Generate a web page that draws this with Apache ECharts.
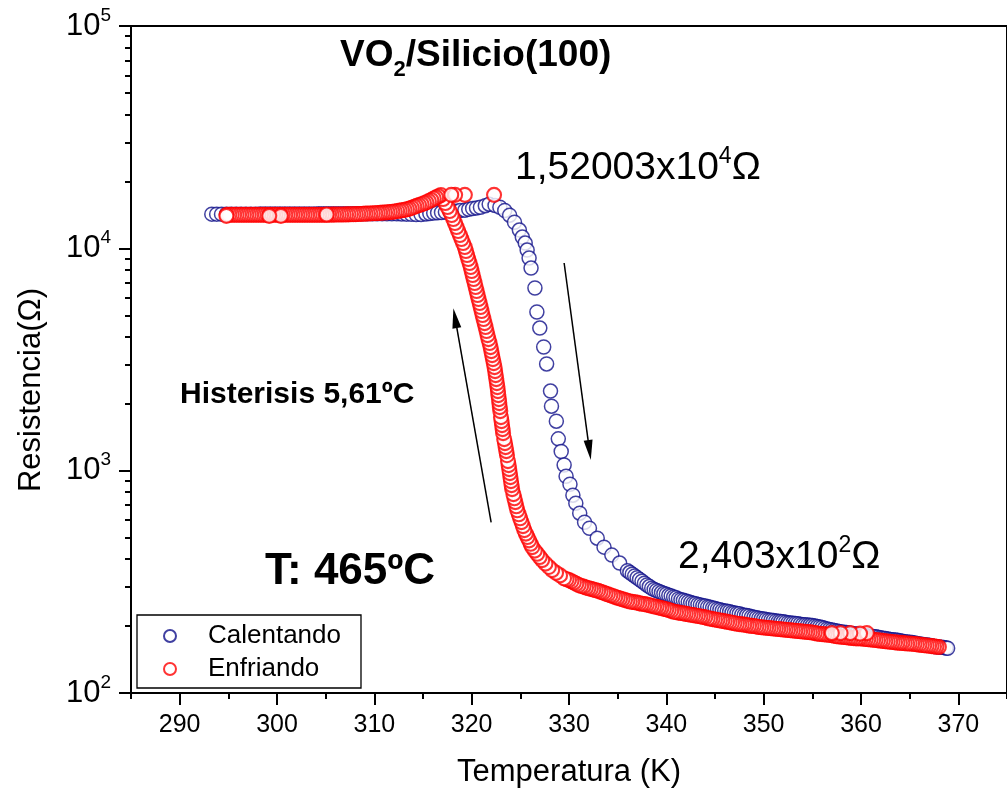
<!DOCTYPE html>
<html><head><meta charset="utf-8">
<script src="https://cdn.jsdelivr.net/npm/echarts@6/dist/echarts.min.js"></script>
<style>html,body{margin:0;padding:0;background:#fff}#c{width:1007px;height:797px}</style>
</head><body><div id="c"></div>
<script>
const FONT = '"Liberation Sans", Arial, Helvetica, sans-serif';
const BLUE = '#10108a';
const RED = '#ff0000';

const seriesNames = ['Calentando', 'Enfriando'];
const xMajorTicks = [290, 300, 310, 320, 330, 340, 350, 360, 370];
const xMinorTicks = [285, 295, 305, 315, 325, 335, 345, 355, 365, 375];
const yMajorTicks = [100, 1000, 10000, 100000];
const yMinorTicks = [200,300,400,500,600,700,800,900,2000,3000,4000,5000,6000,7000,8000,9000,20000,30000,40000,50000,60000,70000,80000,90000];

// Calentando (heating): [T (K), R (ohm)]
const heating = [
[293.3,14250],[293.8,14250],[294.3,14250],[294.8,14250],[295.3,14250],[295.8,14250],[296.3,14250],[296.8,14250],[297.3,14250],[297.8,14250],
[298.3,14260],[298.8,14260],[299.3,14260],[299.8,14260],[300.3,14270],[300.8,14270],[301.3,14270],[301.8,14270],[302.3,14280],[302.8,14280],
[303.3,14280],[303.8,14280],[304.3,14290],[304.8,14290],[305.3,14290],[305.8,14290],[306.3,14300],[306.8,14300],[307.3,14300],[307.8,14300],
[308.3,14300],[308.8,14300],[309.3,14300],[309.8,14300],[310.3,14300],[310.8,14300],[311.3,14300],[311.8,14300],[312.3,14300],[312.8,14280],
[313.3,14250],[313.8,14220],[314.3,14200],[314.8,14200],[315.3,14280],[315.7,14350],[316.1,14400],[316.5,14450],[316.9,14500],[317.3,14550],
[317.8,14620],[318.3,14700],[318.8,14780],[319.3,14850],[319.7,14980],[320.1,15100],[320.5,15200],[320.9,15300],[321.4,15550],[321.8,15800],
[322.4,15600],[322.9,15300],[323.4,14800],[323.9,14100],[324.4,13100],[324.9,12080],[325.2,11240],[325.5,10560],[325.7,9820],[325.9,9040],
[326.1,8150],[326.5,6630],[326.7,5170],[327.0,4380],[327.4,3600],[327.7,3020],[328.1,2280],[328.2,1950],[328.7,1670],[328.9,1390],
[329.2,1220],[329.5,1060],[329.7,944],[330.1,869],[330.4,776],[330.7,714],[331.1,644],[331.6,586],[332.1,551],[332.9,497],
[333.6,453],[334.4,417],[335.2,384],
[336.0,355],[336.25,348],[336.5,342],[336.75,336],[337.0,330],[337.25,324],[337.5,318],[337.75,312],[338.0,306],[338.25,301],
[338.5,296],[338.75,292],[339.0,289],[339.25,286],[339.5,283],[339.75,280],[340.0,278],[340.25,275],[340.5,273],[340.75,270],
[341.0,268],[341.25,265],[341.5,263],[341.75,261],[342.0,259],[342.25,257],[342.5,255],[342.75,253],[343.0,252],[343.25,250],
[343.5,249],[343.75,247],[344.0,246],[344.25,244],[344.5,243],[344.75,241],[345.0,240],[345.25,238],[345.5,237],[345.75,235],
[346.0,234],[346.25,233],[346.5,232],[346.75,230],[347.0,229],[347.25,228],[347.5,227],[347.75,225],[348.0,224],[348.25,223],
[348.5,222],[348.75,220],[349.0,219],[349.25,218],[349.5,217],[349.75,216],[350.0,215],[350.25,214],[350.5,213],[350.75,212.5],
[351.0,212],[351.25,211],[351.5,210],[351.75,209.5],[352.0,209],[352.25,208],[352.5,207],[352.75,206.5],[353.0,206],[353.25,205.5],
[353.5,205],[353.75,204],[354.0,203],[354.25,202.5],[354.5,202],[354.75,201.5],[355.0,201],[355.25,200],[355.5,199],[355.75,198],
[356.0,197],[356.25,195.5],[356.5,194],[356.75,193],[357.0,192],[357.25,191],[357.5,190],[357.75,189],[358.0,188],[358.25,187.5],
[358.5,187],[358.75,186],[359.0,185],[359.25,184.5],[359.5,184],[359.75,183.5],[360.0,183],[360.25,182],[360.5,181],[360.75,180.5],
[361.0,180],[361.25,179.5],[361.5,179],[361.75,178],[362.0,177],[362.25,176.5],[362.5,176],[362.75,175],[363.0,174],[363.25,173.5],
[363.5,173],[363.75,172.5],[364.0,172],[364.25,171],[364.5,170],[364.75,169.5],[365.0,169],[365.25,168.5],[365.5,168],[365.75,167],
[366.0,166],[366.25,165.5],[366.5,165],[366.75,164.5],[367.0,164],[367.25,163],[367.5,162],[367.75,161.5],[368.0,161],[368.25,160.5],
[368.5,160],[368.75,159.5],[368.9,159]
];

// Enfriando (cooling): [T (K), R (ohm)], in measurement order (hot to cold)
const cooling = [
[368.0,161],[367.75,161.5],[367.5,162],[367.25,162.5],[367.0,163],[366.75,163.5],[366.5,164],[366.25,164.5],[366.0,165],[365.75,165.5],
[365.5,166],[365.25,166.5],[365.0,167],[364.75,167],[364.5,167.5],[364.25,168],[364.0,168],[363.75,168.5],[363.5,169],[363.25,169.5],
[363.0,170],[362.75,170.5],[362.5,171],[362.25,171.5],[362.0,172],[361.75,172.5],[361.5,173],[361.25,173.5],[361.0,174],[360.75,174.5],
[360.5,175],[360.25,175.5],[360.0,176],[359.75,176],[359.5,176],[359.25,176.5],[359.0,177],[358.75,177.5],[358.5,178],[358.25,178.5],
[358.0,179],[357.75,179.5],[357.5,180],[357.25,181],[357.0,182],[356.75,182.5],[356.5,183],[356.25,183.5],[356.0,184],[355.75,184.5],
[355.5,185],[355.25,186],[355.0,187],[354.75,187.5],[354.5,188],[354.25,188.5],[354.0,189],[353.75,189.5],[353.5,190],[353.25,190.5],
[353.0,191],[352.75,191.5],[352.5,192],[352.25,192.5],[352.0,193],[351.75,193.5],[351.5,194],[351.25,194.5],[351.0,195],[350.75,195.5],
[350.5,196],[350.25,196.5],[350.0,197],[349.75,197.5],[349.5,198],[349.25,199],[349.0,200],[348.75,200.5],[348.5,201],[348.25,202],
[348.0,203],[347.75,203.5],[347.5,204],[347.25,205],[347.0,206],[346.75,207],[346.5,208],[346.25,209],[346.0,210],[345.75,211],
[345.5,212],[345.25,213],[345.0,214],[344.75,215],[344.5,216],[344.25,217],[344.0,219],[343.75,220],[343.5,221],[343.25,222],
[343.0,223],[342.75,224],[342.5,225],[342.25,226],[342.0,227],[341.75,228],[341.5,229],[341.25,230],[341.0,231],[340.75,232],
[340.5,234],[340.25,236],[340.0,238],[339.75,239],[339.5,241],[339.25,242],[339.0,244],[338.75,245],[338.5,247],[338.25,248],
[338.0,250],[337.75,251],[337.5,252],[337.25,253],[337.0,255],[336.75,256],[336.5,257],[336.25,258],[336.0,260],[335.75,262],
[335.5,264],[335.25,266],[335.0,268],[334.75,270],[334.5,273],[334.25,275],[334.0,278],[333.75,280],[333.5,283],[333.25,285],
[333.0,288],[332.75,290],[332.5,292],[332.25,294],[332.0,296],[331.75,298],[331.5,301],[331.25,303],[331.0,306],[330.75,310],
[330.5,314],[330.25,318],[330.0,322],[329.75,325],
[329.49,328],[329.08,338],[328.67,347],[328.27,357],[327.93,369],[327.58,382],[327.24,396],[326.99,409],[326.73,423],[326.48,437],
[326.22,453],[326.06,469],[325.90,486],[325.73,503],[325.57,521],[325.41,540],[325.27,563],[325.12,587],[324.98,611],[324.84,637],
[324.69,664],[324.59,692],[324.49,722],[324.39,752],[324.29,784],[324.16,826],[324.10,861],[324.04,897],[323.98,935],[323.92,975],
[323.86,1016],[323.80,1059],[323.73,1104],[323.63,1174],[323.56,1224],[323.49,1276],[323.42,1330],[323.34,1386],[323.23,1475],[323.18,1538],
[323.12,1603],[323.07,1671],[323.01,1741],[322.94,1853],[322.89,1932],[322.84,2013],[322.80,2098],[322.74,2187],[322.70,2280],[322.65,2376],
[322.59,2476],[322.53,2581],[322.47,2690],[322.41,2804],[322.35,2922],[322.27,3045],[322.18,3175],[322.10,3310],[322.02,3450],[321.94,3595],
[321.84,3750],[321.73,3905],[321.63,4070],[321.53,4245],[321.43,4425],[321.33,4610],[321.22,4810],[321.12,5010],[321.02,5225],[320.92,5445],
[320.82,5675],[320.71,5915],[320.61,6165],[320.51,6425],[320.41,6695],[320.31,6980],[320.20,7275],[320.10,7585],[320.00,7905],[319.90,8240],
[319.78,8590],[319.65,8950],[319.53,9330],[319.41,9725],[319.29,10140],[319.12,10560],[318.95,11010],[318.79,11480],[318.61,11960],[318.45,12470],
[318.28,13000],[318.11,13550],[317.94,14120],[317.74,14720],[317.52,15340],[317.29,15990],[317.06,16670],[316.84,17375],
[316.6,17150],[316.35,16950],[316.1,16750],[315.85,16500],[315.6,16300],[315.35,16100],[315.1,15950],[314.85,15780],[314.6,15650],[314.35,15520],
[314.1,15380],[313.85,15230],[313.6,15080],[313.35,14980],[313.1,14900],[312.85,14840],[312.6,14770],[312.35,14710],[312.1,14650],[311.85,14600],
[311.6,14560],[311.35,14530],[311.1,14500],[310.85,14470],[310.6,14440],[310.35,14410],[310.1,14390],[309.85,14375],[309.6,14355],[309.35,14340],
[309.1,14320],[308.85,14300],[308.6,14280],[308.35,14260],[308.1,14250],[307.85,14240],[307.6,14225],[307.35,14215],[307.1,14210],[306.85,14200],
[306.6,14200],[306.35,14200],[306.1,14190],[305.85,14180],[305.6,14175],[305.35,14170],[305.1,14160],[304.85,14150],[304.6,14150],[304.35,14150],
[304.1,14150],[303.85,14150],[303.6,14150],[303.35,14150],[303.1,14150],[302.85,14150],[302.6,14150],[302.35,14150],[302.1,14150],[301.85,14150],
[301.6,14150],[301.35,14150],[301.1,14150],[300.85,14150],[300.6,14150],[300.35,14150],[300.1,14150],[299.85,14150],[299.6,14150],[299.35,14150],
[299.1,14150],[298.85,14150],[298.6,14150],[298.35,14150],[298.1,14150],[297.85,14150],[297.6,14150],[297.35,14150],[297.1,14150],[296.85,14150],
[296.6,14150],[296.35,14150],[296.1,14150],[295.85,14150],[295.6,14150],[295.35,14150],[295.1,14150],[294.85,14150],
[360.6,186],[359.9,185],[358.9,186],[357.9,186],[357.0,186],[322.3,17400],[319.3,17400],[318.3,17400],[317.9,17400],
[305.1,14200],[300.4,14000],[299.2,14000],[294.8,14000]
];

// arrows: [start [T,R], end [T,R]]
const arrows = [
  [[329.5, 8590], [332.1, 1237]],
  [[322.0, 586], [318.3, 4856]]
];

const chart = echarts.init(document.getElementById('c'), null, {renderer: 'canvas'});

const axisLineStyle = {color: '#000', width: 2};

const option = {
  animation: false,
  backgroundColor: '#fff',
  grid: {left: 131, top: 26, width: 882, height: 667, show: true, borderColor: '#000', borderWidth: 2, backgroundColor: 'transparent'},
  legend: {
    data: seriesNames, orient: 'vertical', left: 137, top: 615,
    backgroundColor: '#fff', borderColor: '#000', borderWidth: 1.3, borderRadius: 0,
    padding: [8, 20, 6, 26], itemGap: 7, itemWidth: 12, itemHeight: 12,
    textStyle: {fontSize: 26, fontFamily: FONT, color: '#000', padding: [0, 0, 0, 27]}
  },
  xAxis: [
    {
      type: 'value', position: 'bottom', min: 285, max: 375,
      axisLine: {show: true, onZero: false, lineStyle: axisLineStyle},
      axisTick: {show: true, inside: false, length: 12, lineStyle: {width: 2, color: '#000'}, customValues: xMajorTicks},
      axisLabel: {show: true, margin: 20, fontSize: 25, fontFamily: FONT, color: '#000', customValues: xMajorTicks},
      splitLine: {show: false},
      name: 'Temperatura (K)', nameLocation: 'middle', nameGap: 64,
      nameTextStyle: {fontSize: 31, fontFamily: FONT, color: '#000'}
    },
    {
      type: 'value', position: 'bottom', min: 285, max: 375,
      axisLine: {show: false},
      axisTick: {show: true, inside: false, length: 6, lineStyle: {width: 2, color: '#000'}, customValues: xMinorTicks},
      axisLabel: {show: false},
      splitLine: {show: false}
    }
  ],
  yAxis: [
    {
      type: 'log', logBase: 10, min: 100, max: 100000, position: 'left',
      axisLine: {show: true, onZero: false, lineStyle: axisLineStyle},
      axisTick: {show: true, inside: false, length: 12, lineStyle: {width: 2, color: '#000'}, customValues: yMajorTicks},
      axisLabel: {
        show: true, margin: 20, color: '#000', customValues: yMajorTicks,
        formatter: function (v) { return '{b|10}{s|' + Math.round(Math.log10(v)) + '}'; },
        rich: {
          b: {fontSize: 31, fontFamily: FONT, color: '#000', lineHeight: 40},
          s: {fontSize: 19, fontFamily: FONT, color: '#000', lineHeight: 19, verticalAlign: 'top'}
        }
      },
      splitLine: {show: false}
    },
    {
      type: 'log', logBase: 10, min: 100, max: 100000, position: 'left',
      axisLine: {show: false},
      axisTick: {show: true, inside: false, length: 6, lineStyle: {width: 2, color: '#000'}, customValues: yMinorTicks},
      axisLabel: {show: false},
      splitLine: {show: false}
    }
  ],
  series: [
    {
      name: 'Calentando', type: 'scatter', data: heating, symbol: 'circle', symbolSize: 14,
      itemStyle: {color: '#fff', borderColor: BLUE, borderWidth: 1.5},
      emphasis: {disabled: true}, z: 2
    },
    {
      name: 'Enfriando', type: 'scatter', data: cooling, symbol: 'circle', symbolSize: 14,
      itemStyle: {color: '#fff', borderColor: RED, borderWidth: 2.1},
      emphasis: {disabled: true}, z: 3
    },
    {
      name: 'arrows', type: 'scatter', data: [], silent: true, z: 4,
      markLine: {
        silent: true, symbol: ['none', 'triangle'], symbolSize: [9, 20],
        lineStyle: {color: '#000', width: 1.5, type: 'solid'},
        itemStyle: {color: '#000'},
        label: {show: false}, emphasis: {disabled: true},
        data: arrows.map(function (a) { return [{coord: a[0]}, {coord: a[1]}]; })
      }
    }
  ],
  graphic: [
    {
      type: 'text', x: 31, y: 390, rotation: Math.PI / 2,
      style: {text: 'Resistencia(Ω)', fontSize: 31, fontFamily: FONT, fill: '#000', align: 'center', verticalAlign: 'middle'}
    },
    {
      type: 'text', x: 340, y: 56,
      style: {
        text: '{a|VO}{s|2}{a|/Silicio(100)}', verticalAlign: 'middle', align: 'left',
        rich: {
          a: {fontSize: 37, fontWeight: 'bold', fontFamily: FONT, fill: '#000', lineHeight: 50},
          s: {fontSize: 22, fontWeight: 'bold', fontFamily: FONT, fill: '#000', lineHeight: 22, verticalAlign: 'bottom'}
        }
      }
    },
    {
      type: 'text', x: 515, y: 168,
      style: {
        text: '{n|1,52003x10}{s|4}{n|Ω}', verticalAlign: 'middle', align: 'left',
        rich: {
          n: {fontSize: 39, fontFamily: FONT, fill: '#000', lineHeight: 46},
          s: {fontSize: 23, fontFamily: FONT, fill: '#000', lineHeight: 20, verticalAlign: 'top'}
        }
      }
    },
    {
      type: 'text', x: 678, y: 557,
      style: {
        text: '{n|2,403x10}{s|2}{n|Ω}', verticalAlign: 'middle', align: 'left',
        rich: {
          n: {fontSize: 39, fontFamily: FONT, fill: '#000', lineHeight: 46},
          s: {fontSize: 23, fontFamily: FONT, fill: '#000', lineHeight: 20, verticalAlign: 'top'}
        }
      }
    },
    {
      type: 'text', x: 180, y: 395,
      style: {text: 'Histerisis 5,61ºC', fontSize: 30, fontWeight: 'bold', fontFamily: FONT, fill: '#000', align: 'left', verticalAlign: 'middle'}
    },
    {
      type: 'text', x: 265, y: 572,
      style: {text: 'T: 465ºC', fontSize: 44, fontWeight: 'bold', fontFamily: FONT, fill: '#000', align: 'left', verticalAlign: 'middle'}
    }
  ]
};
chart.setOption(option);
</script>
</body></html>
